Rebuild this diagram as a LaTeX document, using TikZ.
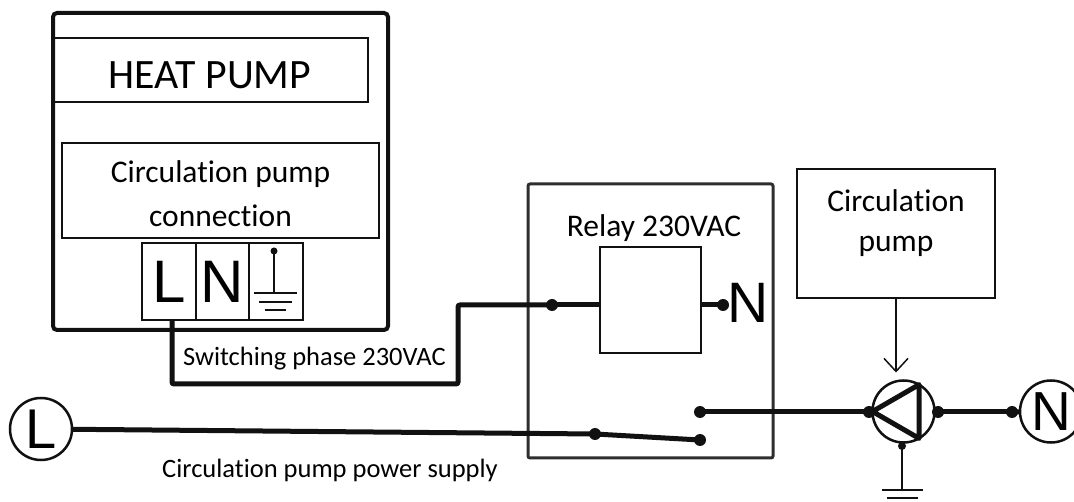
\documentclass[tikz,border=0pt]{standalone}
\usepackage{fontspec}
\setmainfont{Carlito}[Ligatures={NoCommon,NoRequired,NoContextual}]
\newfontfamily\arialfont{Liberation Sans}
\usetikzlibrary{arrows.meta, positioning, calc}
\definecolor{ink}{HTML}{111111}
\definecolor{relaygray}{HTML}{2E2E2E}
\tikzset{
  box/.style={draw=ink, line width=1.5pt, inner sep=0pt, outer sep=0pt},
  wire/.style={draw=ink, line width=5pt},
  dot/.style={circle, fill=ink, inner sep=0pt, outer sep=0pt, minimum size=12pt},
  term/.style={box, minimum height=77pt,
               font=\arialfont\fontsize{60}{60}\selectfont},
  port/.style={circle, draw=ink, line width=2.5pt, minimum size=62pt,
               inner sep=0pt, outer sep=0pt,
               font=\arialfont\fontsize{55}{55}\selectfont},
  lbl/.style={inner sep=0pt, font=\fontsize{26.5}{30}\selectfont},
  big/.style={inner sep=0pt, align=center, font=\fontsize{31.5}{44}\selectfont},
  arrow/.style={-{Straight Barb[length=13pt,width=24pt]}, line width=1.5pt, draw=ink},
}
\begin{document}
\begin{tikzpicture}[x=1pt, y=-1pt]
  \useasboundingbox (0,0) rectangle (1074,502);

  %% Heat pump
  \node[box, line width=4pt, rounded corners=4pt,
        minimum width=335pt, minimum height=317pt] (hp) at (220.5,171.5) {};
  \node[box, minimum width=315pt, minimum height=64pt] (hptitle) at (210.5,70) {};
  \node[inner sep=0pt, anchor=base, font=\fontsize{41.8}{48}\selectfont]
    at (210,89) {HEAT PUMP};
  \node[box, minimum width=317pt, minimum height=95pt] (conn) at (220.5,190.5) {};
  \node[big] at (220.5,194) {Circulation pump\\connection};

  %% Terminal block
  \node[term, minimum width=54pt] (tL) at (169,281.5) {L};
  \node[term, minimum width=53pt, right=0pt of tL] (tN) {N};
  \node[term, minimum width=54pt, right=0pt of tN] (tE) {};
  \fill[ink] (274,251) circle (3.5pt);
  \draw[ink, line width=1.5pt] (274,251) -- (274,293);
  \draw[ink, line width=1.5pt] (254,293) -- (297,293)
                              (259,302) -- (292,302)
                              (265,310) -- (286,310);

  %% Relay
  \node[box, draw=relaygray, line width=3pt, rounded corners=2pt,
        minimum width=245pt, minimum height=274pt] (relay) at (650.5,321) {};
  \node[inner sep=0pt, anchor=base, font=\fontsize{31.5}{36}\selectfont]
    at (654,237) {Relay 230VAC};
  \node[box, minimum width=101pt, minimum height=106pt] (coil) at (650.5,300) {};
  \node[dot] (cin) at (552,305) {};
  \node[dot] (nout) at (723,305) {};
  \node[inner sep=0pt, font=\arialfont\fontsize{57}{57}\selectfont]
    at (748.5,302.5) {N};
  \node[dot] (piv) at (595,434) {};
  \node[dot] (cbot) at (700,440) {};
  \node[dot] (ctop) at (700,412) {};

  %% Switching phase
  \coordinate (swbend) at (458,384);
  \draw[wire, rounded corners=2pt] ([xshift=3pt]tL.south) |- (swbend) |- (cin.center);
  \draw[wire] (cin.center) -- (cin.center -| coil.west);
  \draw[wire] (nout.center -| coil.east) -- (nout.center);
  \node[lbl, anchor=base west] at (183,366) {Switching phase 230VAC};

  %% Supply
  \node[port, font=\arialfont\fontsize{56}{56}\selectfont] (Lc) at (41,429) {L};
  \draw[wire] (Lc) -- (piv.center);
  \draw[wire] (piv.center) -- (cbot.center);
  \node[lbl, anchor=base west] at (162,478) {Circulation pump power supply};

  %% Pump
  \node[port] (pump) at (903.5,411.5) {};
  \draw[ink, line width=5pt, line join=round]
    (pump.west) -- (pump.60) -- (pump.-60) -- cycle;
  \node[dot] (pin) at (869,412) {};
  \node[dot] (pout) at (938,412) {};
  \node[dot] (nin) at (1012,412) {};
  \node[port] (Nc) at (1051,411.5) {N};
  \draw[wire] (ctop.center) -- (pin.center);
  \draw[wire] (pout.center) -- (nin.center);
  \draw[wire] (nin.center) -- (Nc);

  %% Earth
  \node[dot, minimum size=8pt] (gnd) at (902,446) {};
  \coordinate (g0) at (902,490);
  \draw[ink, line width=2pt] (gnd.center) -- (g0);
  \draw[ink, line width=2.5pt] ([xshift=-20pt]g0) -- ([xshift=21pt]g0)
                               (887,498) -- (918,498);

  %% Pump label
  \node[box, minimum width=198pt, minimum height=129pt] (cpbox) at (896,233.5) {};
  \node[big, font=\fontsize{31.5}{40}\selectfont] at (896,223) {Circulation\\pump};
  \draw[arrow] (cpbox.south) -- ([yshift=8pt]cpbox.south |- pump.north);
\end{tikzpicture}
\end{document}
